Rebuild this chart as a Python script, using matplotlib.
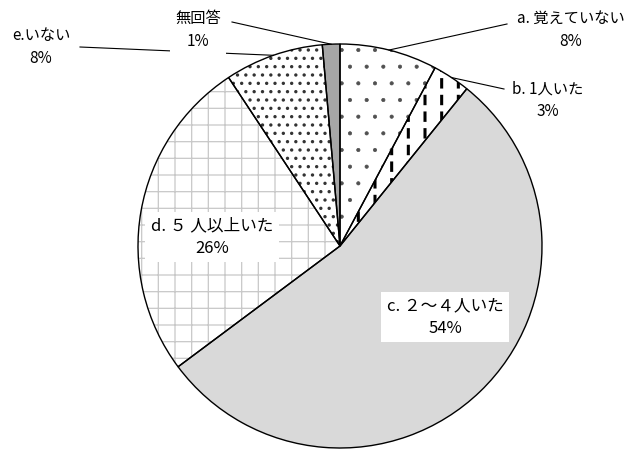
import matplotlib.pyplot as plt
import numpy as np

plt.rcParams['font.family'] = ['Noto Sans CJK JP', 'DejaVu Sans']

# answers (clockwise from 12 o'clock) and their shares in percent
labels = ['a. 覚えていない', 'b. 1人いた', 'c. ２～４人いた', 'd. ５ 人以上いた', 'e.いない', '無回答']
values = [7.8, 3.0, 54.0, 25.9, 7.9, 1.4]

face_colors = ['white', 'white', '#d9d9d9', 'white', 'white', '#a6a6a6']
hatches = ['.', '|', '', '+', '..', '']
hatch_colors = ['#505050', 'black', '#d9d9d9', '#c8c8c8', '#333333', '#a6a6a6']
hatch_widths = [0.5, 2.2, 0.5, 0.9, 1.2, 0.5]

fig = plt.figure(figsize=(6.38, 4.58), dpi=100)
ax = fig.add_axes([0, 0, 1, 1])

cx, cy, r = 340, 212, 202


def set_hw(w, lw):
    if hasattr(w, 'set_hatch_linewidth'):
        w.set_hatch_linewidth(lw)


plt.rcParams['hatch.linewidth'] = 0.6

# layer 1: fills + hatches (hatch colour follows edgecolor, so no edge line here)
fills, _ = ax.pie(values, startangle=90, counterclock=False, center=(cx, cy),
                  radius=r, colors=face_colors)
for w, h, hc, hw in zip(fills, hatches, hatch_colors, hatch_widths):
    w.set_edgecolor(hc)
    w.set_linewidth(0)
    w.set_hatch(h)
    set_hw(w, hw)

# layer 2: white horizontal breaks to turn the vertical lines of b into dashes
breaks, _ = ax.pie(values, startangle=90, counterclock=False, center=(cx, cy),
                   radius=r, colors=['none'] * len(values))
for i, w in enumerate(breaks):
    w.set_edgecolor('white')
    w.set_linewidth(0)
    w.set_hatch('-' if i == 1 else '')
    set_hw(w, 4.5)

# layer 3: black outlines
outlines, _ = ax.pie(values, startangle=90, counterclock=False, center=(cx, cy),
                     radius=r, colors=['none'] * len(values),
                     wedgeprops=dict(edgecolor='black', linewidth=1.0))

pcts = [f'{round(v)}%' for v in values]
sizes = [11, 11, 12, 12, 11, 11]

# positions of the labels (pixel coords, y measured upward)
label_pos = [(571, 428), (548, 358), (445, 141), (212, 221), (41, 411), (198, 428)]
line_end = [(507, 434), (504, 369), None, None, (80, 411), (232, 436)]

for i, (w, txt, pct) in enumerate(zip(outlines, labels, pcts)):
    ang = np.deg2rad((w.theta1 + w.theta2) / 2)
    px, py = cx + r * np.cos(ang), cy + r * np.sin(ang)
    if line_end[i] is not None:
        ex, ey = line_end[i]
        ax.plot([px, ex], [py, ey], color='black', lw=0.8, zorder=3)
    bbox = None
    if i in (2, 3, 5):
        bbox = dict(facecolor='white', edgecolor='none', pad=4)
    ax.text(label_pos[i][0], label_pos[i][1], f'{txt}\n{pct}', ha='center',
            va='center', fontsize=sizes[i], linespacing=1.45, bbox=bbox, zorder=4)

ax.set_xlim(0, 638)
ax.set_ylim(0, 458)
ax.set_aspect('auto')
ax.axis('off')

plt.savefig('out.png', dpi=100)
